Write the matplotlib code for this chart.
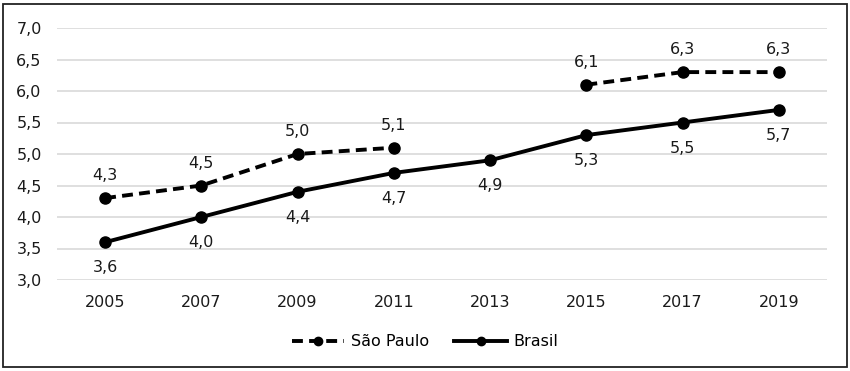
import matplotlib
matplotlib.use("Agg")
import matplotlib.pyplot as plt
import numpy as np
from matplotlib.patches import Rectangle

years = ["2005", "2007", "2009", "2011", "2013", "2015", "2017", "2019"]
sao_paulo = [4.3, 4.5, 5.0, 5.1, np.nan, 6.1, 6.3, 6.3]
brasil = [3.6, 4.0, 4.4, 4.7, 4.9, 5.3, 5.5, 5.7]
yticks = [3.0, 3.5, 4.0, 4.5, 5.0, 5.5, 6.0, 6.5, 7.0]

plt.rcParams['font.family'] = ['DejaVu Sans']
fs = 11.5

fig = plt.figure(figsize=(8.5, 3.71), dpi=100)
ax = fig.add_axes([57/850, 1-280/371, 770/850, 252/371])

x = np.arange(len(years))
ax.plot(x, sao_paulo, color='black', lw=2.8, ls=(0, (2.8, 1.6)), marker='o',
        markersize=8, label='São Paulo', dash_capstyle='butt')
ax.plot(x, brasil, color='black', lw=2.8, marker='o', markersize=8, label='Brasil')

def fmt(v):
    return f"{v:.1f}".replace('.', ',')

for xi, v in zip(x, sao_paulo):
    if not np.isnan(v):
        ax.annotate(fmt(v), (xi, v), xytext=(0, 16), textcoords='offset points',
                    ha='center', va='center', fontsize=fs, color='#1a1a1a')
for xi, v in zip(x, brasil):
    ax.annotate(fmt(v), (xi, v), xytext=(0, -18.5), textcoords='offset points',
                ha='center', va='center', fontsize=fs, color='#1a1a1a')

ax.set_xlim(-0.5, len(years) - 0.5)
ax.set_ylim(3.0, 7.0)
ax.set_yticks(yticks)
ax.set_yticklabels([fmt(t) for t in yticks], fontsize=fs, color='#1a1a1a')
ax.set_xticks(x)
ax.set_xticklabels(years, fontsize=fs, color='#1a1a1a')
ax.tick_params(length=0)
ax.tick_params(axis='x', pad=11)
ax.tick_params(axis='y', pad=11)
ax.grid(axis='y', color='#d9d9d9', lw=1.2)
ax.set_axisbelow(True)
for s in ax.spines.values():
    s.set_visible(False)

leg = fig.legend(loc='center', bbox_to_anchor=(425/850, 1-342/371), ncol=2,
                 frameon=False, fontsize=fs, handlelength=3.3, handletextpad=0.4,
                 columnspacing=1.6, markerscale=0.75)

fig.patches.append(Rectangle((3/850, 4/371), 844/850, 1-8/371, transform=fig.transFigure,
                             fill=False, edgecolor='#222222', lw=1.3))

fig.savefig('out.png', dpi=100)
